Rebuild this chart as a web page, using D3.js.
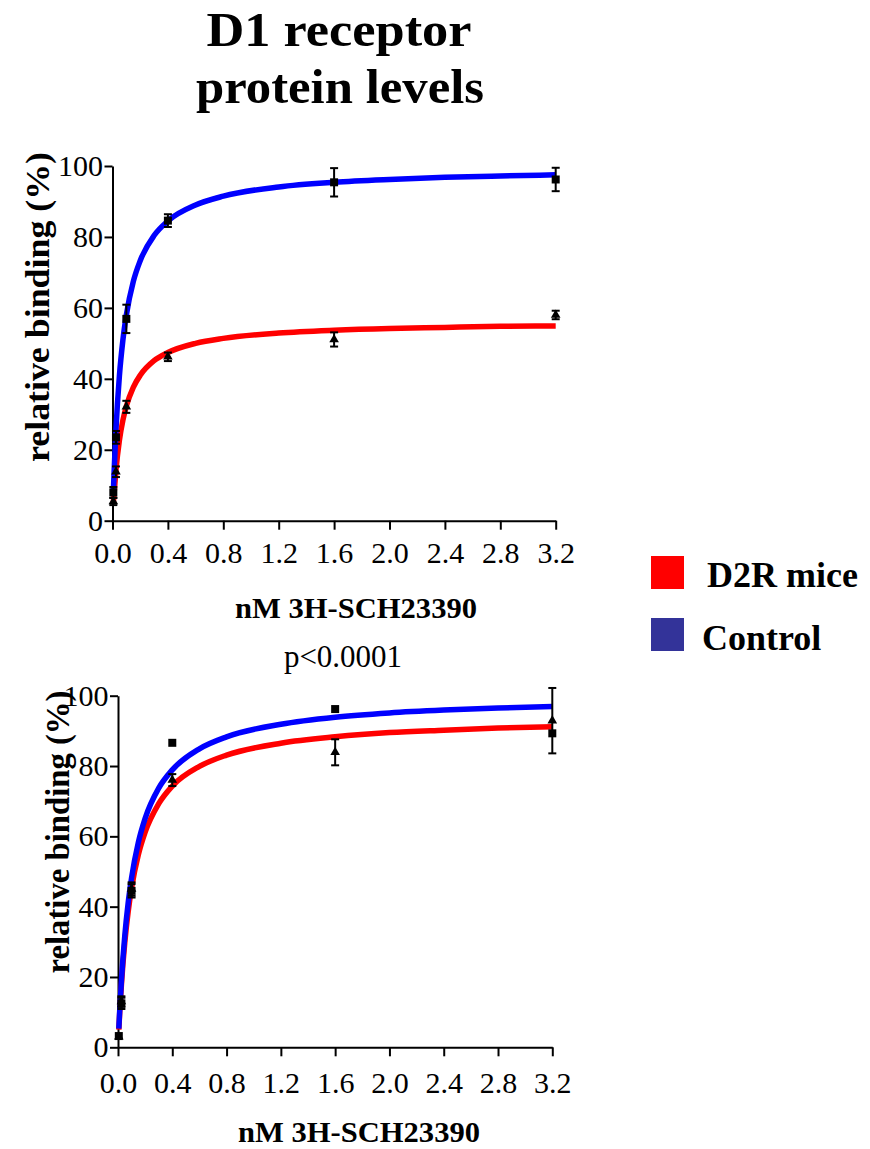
<!DOCTYPE html>
<html>
<head>
<meta charset="utf-8">
<script src="https://cdn.jsdelivr.net/npm/d3@7"></script>
<style>
  body { margin: 0; background: #fff; }
</style>
</head>
<body>
<svg id="chart" width="870" height="1149"></svg>
<script>
// Tick labels
const xTicks = [0, 0.4, 0.8, 1.2, 1.6, 2.0, 2.4, 2.8, 3.2];
const yTicks = [0, 20, 40, 60, 80, 100];

// Measured concentrations (nM)
const conc = [0.006, 0.025, 0.1, 0.4, 1.6, 3.2];

// Top panel: points and SEM
const controlTop = [8.0, 23.5, 56.9, 84.6, 95.4, 96.2];
const controlTopErr = [1.5, 1.8, 4.0, 1.8, 4.0, 3.3];
const d2rTop = [5.4, 13.8, 32.1, 46.2, 51.1, 58.0];
const d2rTopErr = [1.0, 1.5, 1.7, 1.2, 2.0, 1.2];

// Bottom panel: points and SEM
const controlBottom = [3.2, 12.5, 44.5, 86.6, 96.2, 89.3];
const controlBottomErr = [0, 1.6, 1.9, 0, 0, 0];
const d2rBottom = [3.0, 13.0, 45.0, 76.0, 83.9, 92.9];
const d2rBottomErr = [0, 1.5, 1.9, 1.7, 3.7, 9.3];

// Fitted curves
const curveX = [0.006, 0.0125, 0.025, 0.05, 0.075, 0.1, 0.15, 0.2, 0.3, 0.4, 0.6, 0.8, 1.2, 1.6, 2.0, 2.4, 2.8, 3.2];
const fitControlTop = [8.0, 14.7, 25.7, 40.9, 50.9, 58.0, 67.4, 73.3, 80.4, 84.5, 89.0, 91.5, 94.1, 95.4, 96.2, 96.8, 97.2, 97.5];
const fitD2rTop = [5.0, 8.1, 14.2, 22.7, 28.3, 32.3, 37.6, 41.0, 45.1, 47.4, 50.0, 51.4, 52.9, 53.7, 54.2, 54.5, 54.8, 54.9];
const fitControlBottom = [5.3, 10.4, 18.8, 31.7, 41.1, 48.2, 58.3, 65.1, 73.7, 78.9, 84.9, 88.3, 91.9, 93.9, 95.1, 95.9, 96.5, 96.9];
const fitD2rBottom = [5.0, 9.8, 17.7, 29.8, 38.6, 45.3, 54.8, 61.2, 69.3, 74.3, 79.9, 83.1, 86.5, 88.3, 89.5, 90.2, 90.8, 91.2];

const legendLabels = ["D2R mice", "Control"];
const legendColors = ["#ff0000", "#333399"];

const serif = "'Liberation Serif', 'Times New Roman', 'DejaVu Serif', serif";
const svg = d3.select("#chart");

// Title
svg.append("text").attr("x", 339).attr("y", 46)
    .attr("text-anchor", "middle").attr("font-size", 49).attr("font-weight", "bold")
    .attr("textLength", 265).attr("lengthAdjust", "spacingAndGlyphs")
    .style("font-family", serif)
    .text("D1 receptor");
svg.append("text").attr("x", 340).attr("y", 103)
    .attr("text-anchor", "middle").attr("font-size", 49).attr("font-weight", "bold")
    .attr("textLength", 288).attr("lengthAdjust", "spacingAndGlyphs")
    .style("font-family", serif)
    .text("protein levels");

function drawPanel(p) {
    const x = d3.scaleLinear().domain([0, 3.2]).range([p.left, p.right]);
    const y = d3.scaleLinear().domain([0, 100]).range([p.bottom, p.top]);
    const g = svg.append("g");

    // axes
    const xAxis = g.append("g")
        .attr("transform", `translate(0,${p.bottom})`)
        .call(d3.axisBottom(x).tickValues(xTicks).tickFormat(d3.format(".1f"))
            .tickSize(9).tickPadding(p.xPad).tickSizeOuter(0));
    const yAxis = g.append("g")
        .attr("transform", `translate(${p.left},0)`)
        .call(d3.axisLeft(y).tickValues(yTicks).tickSize(8).tickPadding(1.5).tickSizeOuter(0));
    [xAxis, yAxis].forEach(a => {
        a.attr("font-family", null).attr("font-size", null);
        a.select(".domain").attr("stroke", "#000").attr("stroke-width", 2);
        a.selectAll(".tick line").attr("stroke", "#000").attr("stroke-width", 2);
        a.selectAll(".tick text").attr("fill", "#000")
            .style("font-family", serif).style("font-size", "30px");
    });

    // fitted curves
    const line = d3.line().x(d => x(d[0])).y(d => y(d[1])).curve(d3.curveMonotoneX);
    [[p.fitD2r, "#ff0000"], [p.fitControl, "#0000ff"]].forEach(([vals, col]) => {
        g.append("path")
            .datum(curveX.map((c, i) => [c, vals[i]]))
            .attr("d", line).attr("fill", "none")
            .attr("stroke", col).attr("stroke-width", 5.5);
    });

    // error bars + markers
    const series = [
        { vals: p.d2r, err: p.d2rErr, sym: d3.symbolTriangle, size: 40 },
        { vals: p.control, err: p.controlErr, sym: d3.symbolSquare, size: 64 }
    ];
    series.forEach(s => {
        const pts = conc.map((c, i) => ({ c: c, v: s.vals[i], e: s.err[i] }));
        const eb = g.selectAll(null).data(pts.filter(d => d.e > 0)).enter().append("g")
            .attr("stroke", "#000").attr("stroke-width", 2);
        eb.append("line")
            .attr("x1", d => x(d.c)).attr("x2", d => x(d.c))
            .attr("y1", d => y(d.v - d.e)).attr("y2", d => y(d.v + d.e));
        eb.append("line")
            .attr("x1", d => x(d.c) - 4).attr("x2", d => x(d.c) + 4)
            .attr("y1", d => y(d.v + d.e)).attr("y2", d => y(d.v + d.e));
        eb.append("line")
            .attr("x1", d => x(d.c) - 4).attr("x2", d => x(d.c) + 4)
            .attr("y1", d => y(d.v - d.e)).attr("y2", d => y(d.v - d.e));
        g.selectAll(null).data(pts).enter().append("path")
            .attr("d", d3.symbol().type(s.sym).size(s.size))
            .attr("transform", d => `translate(${x(d.c)},${y(d.v)})`)
            .attr("fill", "#000");
    });

    // axis titles
    g.append("text")
        .attr("transform", `translate(${p.yLabX},${p.yLabY}) rotate(-90)`)
        .attr("text-anchor", "middle").attr("font-size", 33).attr("font-weight", "bold")
        .attr("textLength", p.yLabLen).attr("lengthAdjust", "spacingAndGlyphs")
        .style("font-family", serif)
        .text("relative binding (%)");
    g.append("text")
        .attr("x", p.xLabX).attr("y", p.xLabY)
        .attr("text-anchor", "middle").attr("font-size", 29).attr("font-weight", "bold")
        .attr("textLength", 242).attr("lengthAdjust", "spacingAndGlyphs")
        .style("font-family", serif)
        .text("nM 3H-SCH23390");
}

drawPanel({
    left: 112.5, right: 555.7, top: 166, bottom: 520.7, xPad: 12.5,
    control: controlTop, controlErr: controlTopErr, d2r: d2rTop, d2rErr: d2rTopErr,
    fitControl: fitControlTop, fitD2r: fitD2rTop,
    yLabX: 49, yLabY: 307, yLabLen: 310, xLabX: 356, xLabY: 618
});

drawPanel({
    left: 118, right: 552.3, top: 695.7, bottom: 1047.3, xPad: 15.5,
    control: controlBottom, controlErr: controlBottomErr, d2r: d2rBottom, d2rErr: d2rBottomErr,
    fitControl: fitControlBottom, fitD2r: fitD2rBottom,
    yLabX: 69, yLabY: 832, yLabLen: 283, xLabX: 359, xLabY: 1142
});

// p value
svg.append("text").attr("x", 343).attr("y", 667)
    .attr("text-anchor", "middle").attr("font-size", 31)
    .style("font-family", serif)
    .text("p<0.0001");

// Legend
const legend = svg.append("g");
legend.selectAll("rect").data(legendLabels).enter().append("rect")
    .attr("x", 651).attr("y", (d, i) => 556 + i * 62)
    .attr("width", 33).attr("height", 33)
    .attr("fill", (d, i) => legendColors[i]);
legend.selectAll("text").data(legendLabels).enter().append("text")
    .attr("x", (d, i) => i === 0 ? 707 : 702)
    .attr("y", (d, i) => 587 + i * 63)
    .attr("font-size", 36).attr("font-weight", "bold")
    .style("font-family", serif)
    .text(d => d);
</script>
</body>
</html>
